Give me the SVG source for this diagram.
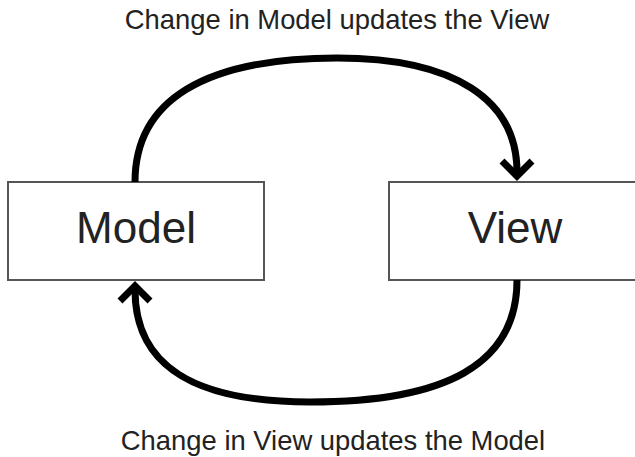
<svg xmlns="http://www.w3.org/2000/svg" width="635" height="457" viewBox="0 0 635 457">
  <style>
    .box { fill: #ffffff; stroke: #555555; stroke-width: 2; }
    .name { font-family: "Liberation Sans", Arial, sans-serif; font-size: 44px; fill: #222222; text-anchor: middle; }
    .caption { font-family: "Liberation Sans", Arial, sans-serif; font-size: 27.4px; fill: #222222; text-anchor: middle; }
    .flow { fill: none; stroke: #000000; stroke-width: 7; }
    .head { fill: none; stroke: #000000; stroke-width: 7; stroke-linejoin: miter; stroke-miterlimit: 10; }
  </style>
  <rect width="635" height="457" fill="#ffffff"/>

  <g id="model">
    <rect class="box" x="8" y="182" width="256" height="98"/>
    <text class="name" x="136" y="243">Model</text>
  </g>

  <g id="view">
    <rect class="box" x="389" y="182" width="260" height="98"/>
    <text class="name" x="515" y="243">View</text>
  </g>

  <g id="connectors">
    <!-- Model to View, over the top -->
    <path class="flow" d="M135,182 C135,100 205,58 337,58 C455,58 517,100 517,172"/>
    <polyline class="head" points="502,161 517,176 532,161"/>
    <!-- View to Model, along the bottom -->
    <path class="flow" d="M517,280 C517,365 445,402 310,402 C192,402 135,365 135,290"/>
    <polyline class="head" points="120,301 135,286 150,301"/>
  </g>

  <g id="captions">
    <text class="caption" x="337" y="29">Change in Model updates the View</text>
    <text class="caption" x="333" y="450">Change in View updates the Model</text>
  </g>
</svg>
